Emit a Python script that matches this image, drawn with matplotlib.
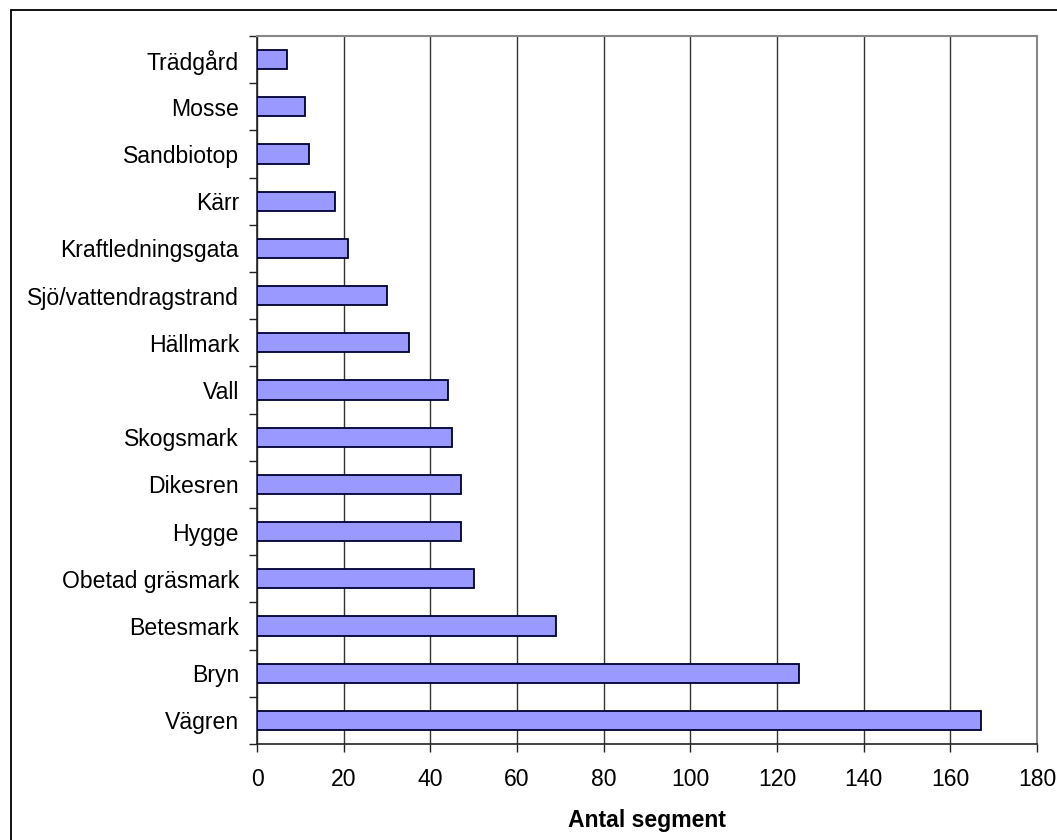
import matplotlib
matplotlib.use("Agg")
import matplotlib.pyplot as plt
from matplotlib.patches import Rectangle

plt.rcParams['font.family'] = ['Liberation Sans', 'DejaVu Sans']

categories = ["Vägren", "Bryn", "Betesmark", "Obetad gräsmark", "Hygge",
              "Dikesren", "Skogsmark", "Vall", "Hällmark",
              "Sjö/vattendragstrand", "Kraftledningsgata", "Kärr",
              "Sandbiotop", "Mosse", "Trädgård"]
counts = [167, 125, 69, 50, 47, 47, 45, 44, 35, 30, 21, 18, 12, 11, 7]
x_ticks = list(range(0, 181, 20))
x_label = "Antal segment"

FS = 16.6
W, H = 1057, 840
fig = plt.figure(figsize=(W / 100, H / 100), dpi=100)
ax = fig.add_axes([257 / W, 1 - 744 / H, (1037 - 257) / W, (744 - 36) / H])

ypos = list(range(len(categories)))
ax.barh(ypos, counts, height=0.41, color="#9999FF",
        edgecolor="#000033", linewidth=1.3, zorder=3)

ax.set_xlim(0, 180)
ax.set_ylim(-0.5, len(categories) - 0.5)
ax.set_xticks(x_ticks)
ax.set_xticklabels([str(t) for t in x_ticks], fontsize=FS)
ax.set_yticks(ypos)
ax.set_yticklabels(categories, fontsize=FS)
ax.tick_params(axis='y', length=0, pad=13)
ax.tick_params(axis='x', length=6, width=1, direction='out', pad=11, color="#222222")

# ticks between categories on the value axis
ax.set_yticks([i + 0.5 for i in range(-1, len(categories))], minor=True)
ax.tick_params(axis='y', which='minor', length=6, width=1, direction='out', color="#222222")

ax.xaxis.grid(True, color="#333333", linewidth=1, zorder=0)
ax.set_axisbelow(True)

for side in ("top", "right"):
    ax.spines[side].set_color("#888888")
    ax.spines[side].set_linewidth(1.5)
for side in ("left", "bottom"):
    ax.spines[side].set_color("#222222")
    ax.spines[side].set_linewidth(1.2)

ax.set_xlabel(x_label, fontsize=FS, fontweight='bold', labelpad=13)

# outer chart frame
fig.patches.append(Rectangle((10.5 / W, -0.1), 1.2, 1 - 10.5 / H + 0.1,
                             transform=fig.transFigure, fill=False,
                             edgecolor="black", linewidth=1.3))

fig.savefig("out.png", dpi=100)
